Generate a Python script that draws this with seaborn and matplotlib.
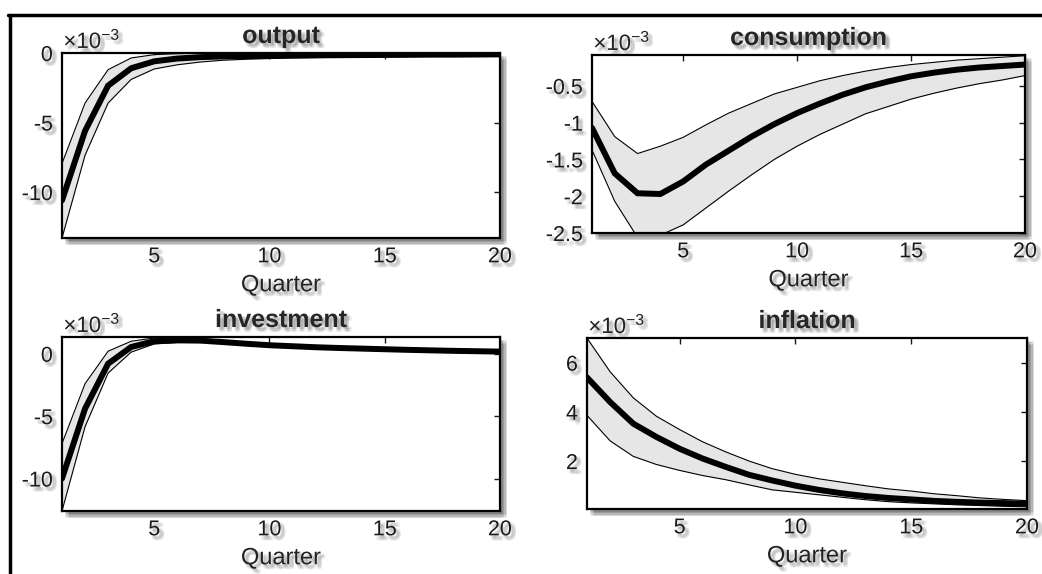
import numpy as np
import pandas as pd
import matplotlib
matplotlib.use("Agg")
import matplotlib.pyplot as plt
import matplotlib.patheffects as pe
from matplotlib.lines import Line2D
import seaborn as sns

quarters = list(range(1, 21))

# values in units of 1e-3
output_med = [-10.6, -5.6, -2.35, -1.1, -0.6, -0.4, -0.3, -0.25, -0.22, -0.2,
              -0.18, -0.17, -0.16, -0.15, -0.14, -0.13, -0.12, -0.12, -0.11, -0.1]
output_hi = [-7.95, -3.6, -1.2, -0.36, -0.12, -0.05, -0.02, -0.01, -0.01, -0.01,
             -0.01, -0.01, -0.01, -0.01, -0.01, -0.01, -0.01, -0.01, -0.01, -0.01]
output_lo = [-13.3, -7.35, -3.6, -1.9, -1.15, -0.85, -0.65, -0.52, -0.45, -0.4,
             -0.36, -0.33, -0.31, -0.29, -0.27, -0.26, -0.25, -0.24, -0.23, -0.22]

cons_med = [-1.07, -1.69, -1.96, -1.97, -1.80, -1.57, -1.38, -1.19, -1.02, -0.87,
            -0.74, -0.62, -0.52, -0.44, -0.37, -0.32, -0.28, -0.25, -0.23, -0.21]
cons_hi = [-0.71, -1.19, -1.42, -1.32, -1.20, -1.03, -0.87, -0.74, -0.61, -0.52,
           -0.43, -0.36, -0.30, -0.25, -0.21, -0.18, -0.15, -0.13, -0.11, -0.09]
cons_lo = [-1.37, -2.07, -2.56, -2.53, -2.39, -2.16, -1.93, -1.71, -1.50, -1.32,
           -1.16, -1.02, -0.88, -0.78, -0.68, -0.60, -0.53, -0.47, -0.42, -0.36]

inv_med = [-10.0, -4.4, -0.8, 0.54, 1.0, 1.07, 1.05, 0.93, 0.8, 0.68,
           0.6, 0.52, 0.46, 0.41, 0.36, 0.31, 0.27, 0.23, 0.2, 0.17]
inv_hi = [-7.2, -2.4, 0.2, 1.0, 1.26, 1.25, 1.18, 1.05, 0.92, 0.8,
          0.71, 0.63, 0.56, 0.5, 0.45, 0.4, 0.36, 0.32, 0.29, 0.26]
inv_lo = [-12.6, -5.85, -1.55, 0.13, 0.78, 0.9, 0.92, 0.82, 0.7, 0.58,
          0.5, 0.42, 0.36, 0.31, 0.27, 0.22, 0.18, 0.14, 0.11, 0.08]

infl_med = [5.4, 4.4, 3.52, 2.98, 2.5, 2.1, 1.76, 1.44, 1.21, 1.0,
            0.83, 0.69, 0.58, 0.5, 0.44, 0.38, 0.34, 0.31, 0.29, 0.26]
infl_hi = [7.0, 5.63, 4.57, 3.82, 3.28, 2.78, 2.37, 2.0, 1.69, 1.46,
           1.28, 1.14, 1.0, 0.87, 0.78, 0.67, 0.59, 0.5, 0.44, 0.39]
infl_lo = [3.86, 2.82, 2.19, 1.86, 1.62, 1.41, 1.24, 1.03, 0.83, 0.73,
           0.63, 0.53, 0.43, 0.35, 0.3, 0.26, 0.22, 0.19, 0.16, 0.14]

titles = ["output", "consumption", "investment", "inflation"]
xticks = [5, 10, 15, 20]
yticks_list = [[-10, -5, 0], [-2.5, -2, -1.5, -1, -0.5], [-10, -5, 0], [2, 4, 6]]
ytick_labels_list = [["-10", "-5", "0"], ["-2.5", "-2", "-1.5", "-1", "-0.5"],
                     ["-10", "-5", "0"], ["2", "4", "6"]]
ylims = [(-13.3, 0.0), (-2.5, -0.08), (-12.6, 1.34), (0.05, 7.0)]

sns.set_style("white")
plt.rcParams["font.family"] = ["Liberation Sans", "DejaVu Sans"]
plt.rcParams["axes.unicode_minus"] = False
plt.rcParams["mathtext.default"] = "regular"

fig = plt.figure(figsize=(10.42, 5.74), dpi=100)
fig.patch.set_facecolor("white")

positions = [
    [0.0595, 0.5854, 0.4203, 0.3223],
    [0.5681, 0.5941, 0.4156, 0.3101],
    [0.0595, 0.1098, 0.4203, 0.3031],
    [0.5633, 0.1132, 0.4223, 0.2979],
]

series = [
    (output_med, output_lo, output_hi),
    (cons_med, cons_lo, cons_hi),
    (inv_med, inv_lo, inv_hi),
    (infl_med, infl_lo, infl_hi),
]

# soft (pseudo-blurred) shadows
patch_shadow = []
for dx in (2, 3, 4, 5):
    for dy in (-2, -3, -4, -5):
        patch_shadow.append(pe.SimplePatchShadow(offset=(dx, dy), shadow_rgbFace="0.2", alpha=0.05))
patch_shadow.append(pe.Normal())

txt_shadow = []
for dx in (1.5, 2.5, 3.5):
    for dy in (-1.5, -2.5, -3.5):
        txt_shadow.append(pe.SimplePatchShadow(offset=(dx, dy), shadow_rgbFace="0.3", alpha=0.07))
txt_shadow.append(pe.Normal())

for i in range(4):
    ax = fig.add_axes(positions[i])
    med, lo, hi = series[i]
    df = pd.DataFrame({"Quarter": quarters, "med": med, "lo": lo, "hi": hi})
    ax.fill_between(df["Quarter"], df["lo"], df["hi"], color="#e6e6e6", lw=0, zorder=1)
    sns.lineplot(data=df, x="Quarter", y="lo", ax=ax, color="black", lw=0.8, zorder=2)
    sns.lineplot(data=df, x="Quarter", y="hi", ax=ax, color="black", lw=0.8, zorder=2)
    sns.lineplot(data=df, x="Quarter", y="med", ax=ax, color="black", lw=4.3, zorder=3,
                 solid_joinstyle="miter")
    ax.set_xlim(1, 20)
    ax.set_ylim(*ylims[i])
    ax.set_xticks(xticks)
    ax.set_xticklabels([str(t) for t in xticks])
    ax.set_yticks(yticks_list[i])
    ax.set_yticklabels(ytick_labels_list[i])
    ax.tick_params(direction="in", length=4, width=1.0, top=True, right=True,
                   labelsize=15.5, colors="#1a1a1a", pad=6.5)
    ax.tick_params(axis="x", pad=6)
    for sp in ax.spines.values():
        sp.set_visible(True)
        sp.set_color("black")
        sp.set_linewidth(1.6)
        sp.set_zorder(5)
    ax.patch.set_path_effects(patch_shadow)
    ax.set_ylabel("")
    ax.set_xlabel("Quarter", fontsize=17, color="#222222", labelpad=5)
    ax.set_title(titles[i], fontsize=18, fontweight="bold", pad=7.2)
    ax.title.set_path_effects(txt_shadow)
    ax.xaxis.label.set_path_effects(txt_shadow)
    for lab in ax.get_xticklabels() + ax.get_yticklabels():
        lab.set_path_effects(txt_shadow)
    t = ax.annotate(r"$\times10^{-3}$", xy=(0.0, 1.0), xycoords="axes fraction",
                    xytext=(1, 3.6), textcoords="offset points",
                    fontsize=16, ha="left", va="baseline", color="#222222")
    t.set_path_effects(txt_shadow)

# outer frame
fig.add_artist(Line2D([8 / 1042, 1.0], [1 - 15 / 574, 1 - 15 / 574],
                      transform=fig.transFigure, color="black", lw=2.5))
fig.add_artist(Line2D([10 / 1042, 10 / 1042], [1 - 15 / 574, 0.0],
                      transform=fig.transFigure, color="black", lw=2.5))

fig.savefig("out.png", dpi=100)
